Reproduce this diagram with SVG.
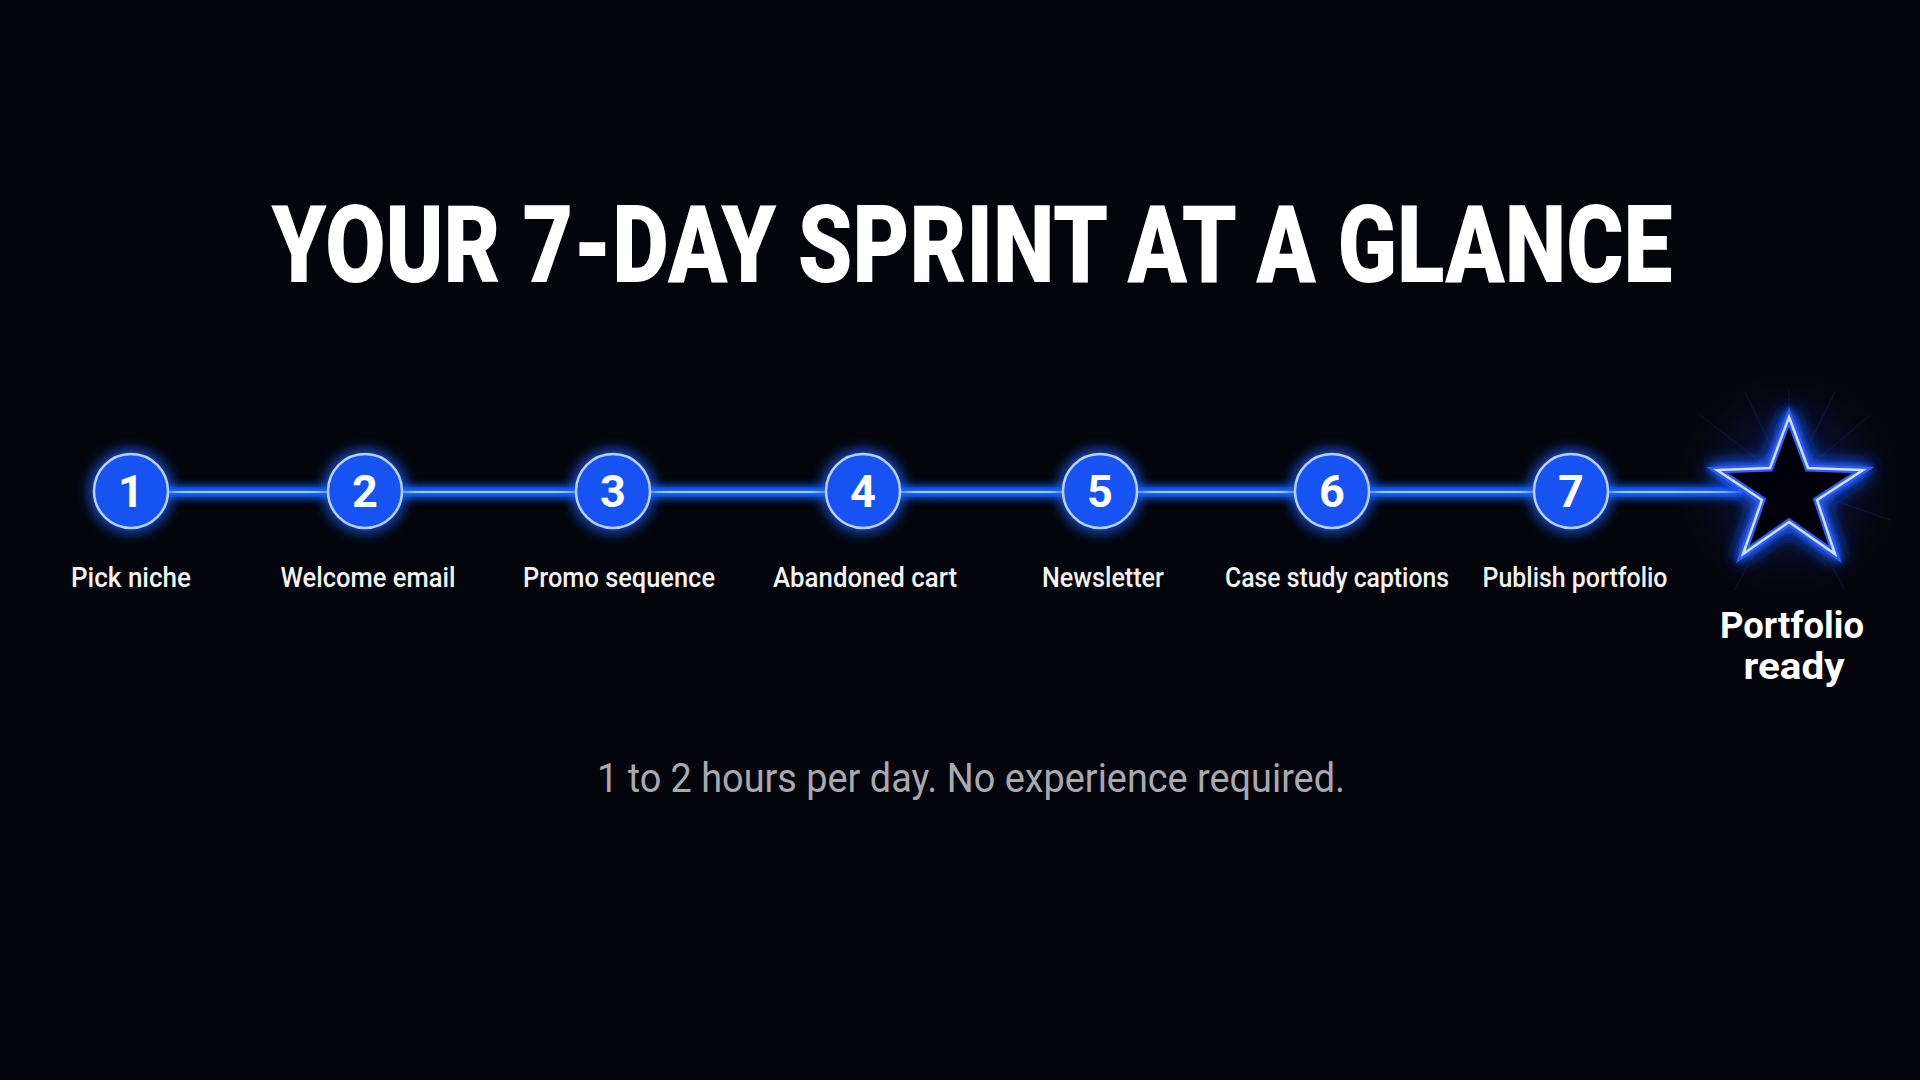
<svg xmlns="http://www.w3.org/2000/svg" width="1920" height="1080" viewBox="0 0 1920 1080">
  <defs>
    <style>
      .title { font-family: Roboto, "Liberation Sans", sans-serif; font-weight: 900; font-size: 90px; fill: #ffffff; text-anchor: middle; }
      .lbl { font-family: Roboto, "Liberation Sans", sans-serif; font-weight: 500; font-size: 28px; fill: #f2f2f2; text-anchor: middle; }
      .num { font-family: Roboto, "Liberation Sans", sans-serif; font-weight: 700; font-size: 45px; fill: #ffffff; text-anchor: middle; }
      .sub { font-family: Roboto, "Liberation Sans", sans-serif; font-weight: 400; font-size: 41px; fill: #a9a9ae; text-anchor: middle; }
      .fin { font-family: Roboto, "Liberation Sans", sans-serif; font-weight: 700; font-size: 37px; fill: #ffffff; text-anchor: middle; }
      .dot { fill: #1653f2; stroke: #b9d2ff; stroke-width: 2.5; }
      .halo { fill: #1f5fff; opacity: 0.9; }
    </style>
    <filter id="glow" x="-50%" y="-50%" width="200%" height="200%">
      <feGaussianBlur in="SourceGraphic" stdDeviation="9" result="b1"/>
      <feGaussianBlur in="SourceGraphic" stdDeviation="3" result="b2"/>
      <feMerge>
        <feMergeNode in="b1"/>
        <feMergeNode in="b1"/>
        <feMergeNode in="b2"/>
        <feMergeNode in="SourceGraphic"/>
      </feMerge>
    </filter>
    <filter id="soft" x="-50%" y="-50%" width="200%" height="200%">
      <feGaussianBlur stdDeviation="7"/>
    </filter>
    <filter id="lineglow" filterUnits="userSpaceOnUse" x="0" y="440" width="1920" height="104">
      <feGaussianBlur in="SourceGraphic" stdDeviation="5" result="b1"/>
      <feGaussianBlur in="SourceGraphic" stdDeviation="1.5" result="b2"/>
      <feMerge>
        <feMergeNode in="b1"/>
        <feMergeNode in="b1"/>
        <feMergeNode in="b2"/>
      </feMerge>
    </filter>
    <radialGradient id="starglow" cx="50%" cy="50%" r="50%">
      <stop offset="0" stop-color="#1e4cff" stop-opacity="0.3"/>
      <stop offset="0.6" stop-color="#1a3fd0" stop-opacity="0.1"/>
      <stop offset="1" stop-color="#0a1030" stop-opacity="0"/>
    </radialGradient>
  </defs>

  <rect width="1920" height="1080" fill="#04050b"/>

  <g id="title">
    <text class="title" x="972" y="235" transform="scale(1,1.2)" textLength="1401" lengthAdjust="spacingAndGlyphs">YOUR 7-DAY SPRINT AT A GLANCE</text>
  </g>

  <g id="connectors">
    <line x1="131" y1="492" x2="1742" y2="492" stroke="#1a63ff" stroke-width="7" filter="url(#lineglow)"/>
    <line x1="131" y1="492" x2="1742" y2="492" stroke="#a8ccff" stroke-width="2.2"/>
  </g>

  <g id="day1">
    <circle class="halo" cx="131" cy="491" r="41" filter="url(#soft)"/>
    <circle class="dot" cx="131" cy="491" r="37"/>
    <text class="num" x="131" y="507">1</text>
    <text class="lbl" x="131" y="587" textLength="120" lengthAdjust="spacingAndGlyphs">Pick niche</text>
  </g>
  <g id="day2">
    <circle class="halo" cx="365" cy="491" r="41" filter="url(#soft)"/>
    <circle class="dot" cx="365" cy="491" r="37"/>
    <text class="num" x="365" y="507">2</text>
    <text class="lbl" x="368" y="587" textLength="175" lengthAdjust="spacingAndGlyphs">Welcome email</text>
  </g>
  <g id="day3">
    <circle class="halo" cx="613" cy="491" r="41" filter="url(#soft)"/>
    <circle class="dot" cx="613" cy="491" r="37"/>
    <text class="num" x="613" y="507">3</text>
    <text class="lbl" x="619" y="587" textLength="192" lengthAdjust="spacingAndGlyphs">Promo sequence</text>
  </g>
  <g id="day4">
    <circle class="halo" cx="863" cy="491" r="41" filter="url(#soft)"/>
    <circle class="dot" cx="863" cy="491" r="37"/>
    <text class="num" x="863" y="507">4</text>
    <text class="lbl" x="865" y="587" textLength="184" lengthAdjust="spacingAndGlyphs">Abandoned cart</text>
  </g>
  <g id="day5">
    <circle class="halo" cx="1100" cy="491" r="41" filter="url(#soft)"/>
    <circle class="dot" cx="1100" cy="491" r="37"/>
    <text class="num" x="1100" y="507">5</text>
    <text class="lbl" x="1103" y="587" textLength="122" lengthAdjust="spacingAndGlyphs">Newsletter</text>
  </g>
  <g id="day6">
    <circle class="halo" cx="1332" cy="491" r="41" filter="url(#soft)"/>
    <circle class="dot" cx="1332" cy="491" r="37"/>
    <text class="num" x="1332" y="507">6</text>
    <text class="lbl" x="1337" y="587" textLength="224" lengthAdjust="spacingAndGlyphs">Case study captions</text>
  </g>
  <g id="day7">
    <circle class="halo" cx="1571" cy="491" r="41" filter="url(#soft)"/>
    <circle class="dot" cx="1571" cy="491" r="37"/>
    <text class="num" x="1571" y="507">7</text>
    <text class="lbl" x="1575" y="587" textLength="185" lengthAdjust="spacingAndGlyphs">Publish portfolio</text>
  </g>

  <g id="finish">
    <circle cx="1789" cy="484" r="120" fill="url(#starglow)"/>
    <g stroke="#3b6dff" stroke-width="1" opacity="0.14">
      <line x1="1789" y1="484" x2="1789" y2="390"/>
      <line x1="1789" y1="484" x2="1870" y2="415"/>
      <line x1="1789" y1="484" x2="1890" y2="520"/>
      <line x1="1789" y1="484" x2="1845" y2="590"/>
      <line x1="1789" y1="484" x2="1735" y2="590"/>
      <line x1="1789" y1="484" x2="1700" y2="415"/>
      <line x1="1789" y1="484" x2="1835" y2="392"/>
      <line x1="1789" y1="484" x2="1745" y2="392"/>
    </g>
    <polygon points="1789,417 1808,468 1863,470 1817,500 1835,554 1789,522 1743,554 1762,500 1717,470 1770,468" fill="#03040c" stroke="#2a5cff" stroke-width="7" stroke-linejoin="miter" filter="url(#glow)"/>
    <polygon points="1789,417 1808,468 1863,470 1817,500 1835,554 1789,522 1743,554 1762,500 1717,470 1770,468" fill="none" stroke="#d2e2ff" stroke-width="2.5" stroke-linejoin="miter"/>
    <text class="fin" x="1792" y="638" textLength="144" lengthAdjust="spacingAndGlyphs">Portfolio</text>
    <text class="fin" x="1794" y="679" textLength="101" lengthAdjust="spacingAndGlyphs">ready</text>
  </g>

  <g id="subtitle">
    <text class="sub" x="971" y="792" textLength="748" lengthAdjust="spacingAndGlyphs">1 to 2 hours per day. No experience required.</text>
  </g>
</svg>
